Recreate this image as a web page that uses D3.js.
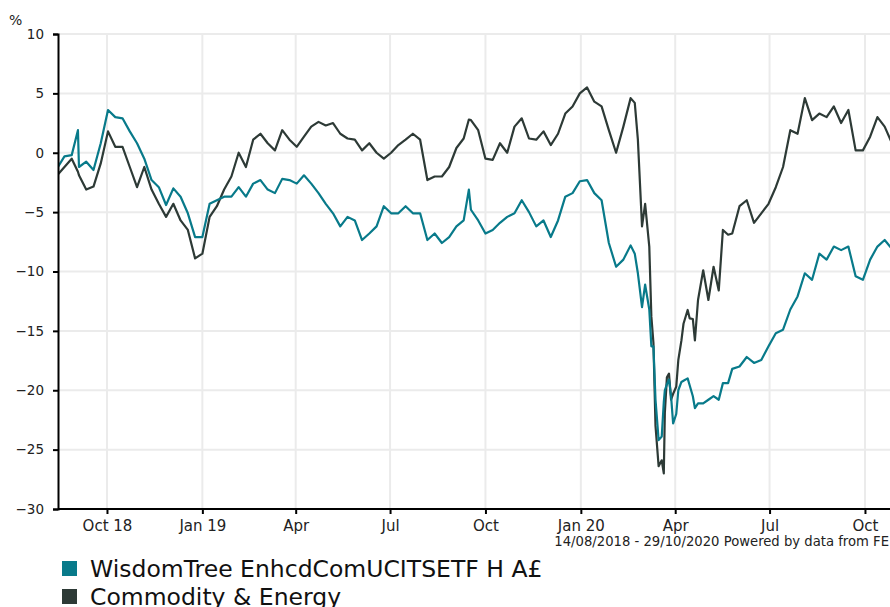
<!DOCTYPE html>
<html>
<head>
<meta charset="utf-8">
<script src="https://cdn.jsdelivr.net/npm/d3@7"></script>
<style>
  html, body { margin: 0; padding: 0; background: #fff; }
  svg { display: block; font-family: "DejaVu Sans", Verdana, sans-serif; }
</style>
</head>
<body>
<svg id="chart"></svg>
<script>
// Chart size
const width = 890;
const height = 607;

// Data: days after 14/08/2018
const startDate = new Date(Date.UTC(2018, 7, 14));
const endDate = new Date(Date.UTC(2020, 9, 29));

const days = [0, 7, 14, 20, 21, 28, 35, 42, 49, 56, 63, 70, 77, 84, 91, 98, 105, 112, 119, 126,
  133, 140, 147, 154, 161, 168, 175, 182, 189, 196, 203, 210, 217, 224, 231, 238, 245, 252, 259, 266,
  273, 280, 287, 294, 301, 308, 315, 322, 329, 336, 343, 350, 357, 364, 371, 378, 385, 392, 397, 399,
  406, 413, 420, 427, 434, 441, 448, 455, 462, 469, 476, 483, 490, 497, 504, 511, 518, 525, 532, 539,
  546, 553, 557, 560, 564, 567, 571, 573, 575, 577, 580, 583, 585, 586, 588, 590, 592, 594, 597, 599,
  602, 604, 608, 610, 613, 615, 618, 623, 628, 633, 638, 642, 647, 651, 658, 665, 672, 679, 686, 693,
  700, 707, 714, 721, 728, 735, 742, 749, 756, 763, 770, 777, 784, 791, 798, 807];

const fundValues = [-1.3, -0.3, -0.2, 1.9, -1.2, -0.75, -1.45, 0.8, 3.6, 3.0, 2.9, 1.8, 0.8, -0.5, -2.3, -2.9, -4.4, -3.0, -3.7, -5.1,
  -7.1, -7.1, -4.3, -4.0, -3.7, -3.7, -2.9, -3.7, -2.6, -2.3, -3.1, -3.4, -2.2, -2.3, -2.6, -1.9, -2.6, -3.4, -4.3, -5.1,
  -6.2, -5.4, -5.7, -7.35, -6.8, -6.2, -4.5, -5.1, -5.1, -4.5, -5.1, -5.1, -7.35, -6.8, -7.6, -7.1, -6.2, -5.7, -3.1, -4.8,
  -5.7, -6.8, -6.5, -5.9, -5.4, -5.1, -4.0, -5.0, -6.2, -5.7, -7.1, -5.7, -3.7, -3.4, -2.4, -2.3, -3.4, -4.0, -7.6, -9.6,
  -9.0, -7.8, -8.5, -10.15, -13.0, -11.1, -13.2, -16.3, -16.3, -20.8, -24.2, -23.9, -21.0, -20.0, -19.5, -19.1, -20.5, -22.8, -22.0, -20.0,
  -19.3, -19.2, -19.0, -19.6, -20.5, -21.5, -21.1, -21.1, -20.8, -20.5, -20.8, -19.4, -19.4, -18.2, -18.0, -17.2, -17.7, -17.45, -16.3, -15.2,
  -14.9, -13.2, -12.1, -10.15, -10.7, -8.5, -9.0, -7.9, -8.2, -7.9, -10.4, -10.7, -9.0, -7.9, -7.35, -8.3];

const sectorValues = [-1.9, -1.2, -0.5, -1.6, -1.9, -3.1, -2.85, -0.9, 1.8, 0.5, 0.5, -1.2, -2.9, -1.2, -3.1, -4.3, -5.4, -4.3, -5.7, -6.5,
  -8.9, -8.5, -5.4, -4.5, -3.1, -2.0, 0.0, -1.2, 1.1, 1.6, 0.8, 0.2, 1.9, 1.1, 0.5, 1.35, 2.2, 2.6, 2.3, 2.5,
  1.6, 1.2, 1.1, 0.2, 0.8, 0.0, -0.5, 0.0, 0.65, 1.1, 1.6, 1.1, -2.3, -2.0, -2.0, -1.2, 0.4, 1.2, 2.8, 2.75,
  1.9, -0.5, -0.6, 0.8, 0.0, 2.2, 2.9, 1.2, 1.1, 1.8, 0.65, 1.6, 3.3, 3.9, 5.0, 5.5, 4.3, 3.9, 1.9, 0.0,
  2.2, 4.6, 4.2, 1.1, -6.2, -4.3, -7.9, -13.8, -16.0, -23.0, -26.4, -25.9, -27.0, -21.9, -18.9, -18.6, -20.8, -20.3, -19.7, -17.45,
  -15.8, -14.4, -13.24, -13.95, -14.0, -15.8, -12.4, -9.9, -12.4, -9.6, -11.6, -6.5, -6.9, -6.8, -4.5, -4.0, -5.9, -5.1, -4.3, -2.9,
  -1.2, 1.9, 1.6, 4.6, 2.75, 3.3, 3.0, 3.9, 2.5, 3.6, 0.2, 0.2, 1.35, 3.0, 2.2, 0.4];

const seriesNames = ["WisdomTree EnhcdComUCITSETF H A£", "Commodity & Energy"];
const seriesColors = ["#087a8a", "#2d3a36"];

const tickDates = [[2018, 9], [2019, 0], [2019, 3], [2019, 6], [2019, 9], [2020, 0], [2020, 3], [2020, 6], [2020, 9]];
const tickLabels = ["Oct 18", "Jan 19", "Apr", "Jul", "Oct", "Jan 20", "Apr", "Jul", "Oct"];
const yTicks = [10, 5, 0, -5, -10, -15, -20, -25, -30];

const sourceText = "14/08/2018 - 29/10/2020 Powered by data from FE";

// Plot area
const margin = { top: 34, left: 58, bottom: 509, right: 894 };

const svg = d3.select("#chart")
  .attr("width", width)
  .attr("height", height);

const x = d3.scaleUtc()
  .domain([startDate, endDate])
  .range([margin.left - 0.8, margin.right]);

const y = d3.scaleLinear()
  .domain([-30, 10])
  .range([margin.bottom, margin.top]);

const tickValues = tickDates.map(([yr, m]) => new Date(Date.UTC(yr, m, 1)));

// grid
svg.append("g")
  .selectAll("line")
  .data(yTicks.slice(0, -1))
  .join("line")
  .attr("x1", margin.left)
  .attr("x2", width)
  .attr("y1", d => y(d))
  .attr("y2", d => y(d))
  .attr("stroke", "#ebebeb")
  .attr("stroke-width", 2);

svg.append("g")
  .selectAll("line")
  .data(tickValues)
  .join("line")
  .attr("x1", d => x(d))
  .attr("x2", d => x(d))
  .attr("y1", margin.top)
  .attr("y2", margin.bottom)
  .attr("stroke", "#ebebeb")
  .attr("stroke-width", 2);

// lines
const rows = days.map((d, i) => ({
  date: d3.utcDay.offset(startDate, d),
  values: [fundValues[i], sectorValues[i]]
}));

const line = k => d3.line()
  .x(d => x(d.date))
  .y(d => y(d.values[k]));

svg.append("defs").append("clipPath")
  .attr("id", "plot")
  .append("rect")
  .attr("x", margin.left)
  .attr("y", 0)
  .attr("width", width - margin.left)
  .attr("height", margin.bottom);

const lines = svg.append("g").attr("clip-path", "url(#plot)");
[1, 0].forEach(k => {
  lines.append("path")
    .datum(rows)
    .attr("fill", "none")
    .attr("stroke", seriesColors[k])
    .attr("stroke-width", 2.2)
    .attr("stroke-linejoin", "round")
    .attr("d", line(k));
});

// axes
const yAxis = svg.append("g")
  .attr("transform", `translate(${margin.left},0)`)
  .call(d3.axisLeft(y).tickValues(yTicks).tickSize(5).tickPadding(9));

const xAxis = svg.append("g")
  .attr("transform", `translate(0,${margin.bottom})`)
  .call(d3.axisBottom(x).tickValues(tickValues).tickSize(5).tickPadding(6)
    .tickFormat((d, i) => tickLabels[i]));

[yAxis, xAxis].forEach(a => {
  a.select(".domain").attr("stroke", "#000").attr("stroke-width", 2);
  a.selectAll(".tick line").attr("stroke", "#000").attr("stroke-width", 2);
  a.selectAll("text")
    .attr("fill", "#222")
    .style("font-family", "DejaVu Sans, Verdana, sans-serif");
});
yAxis.selectAll("text").style("font-size", "13.5px");
xAxis.selectAll("text").style("font-size", "15px");
xAxis.select(".domain").attr("d", `M${margin.left},0H${width}`);

svg.append("text")
  .attr("x", 9)
  .attr("y", 25)
  .attr("fill", "#222")
  .style("font-size", "14px")
  .text("%");

svg.append("text")
  .attr("x", 889)
  .attr("y", 546)
  .attr("text-anchor", "end")
  .attr("fill", "#222")
  .style("font-size", "13.2px")
  .text(sourceText);

// legend
const legend = svg.append("g")
  .selectAll("g")
  .data(seriesNames)
  .join("g")
  .attr("transform", (d, i) => `translate(62,${561 + i * 28})`);

legend.append("rect")
  .attr("width", 15)
  .attr("height", 15)
  .attr("fill", (d, i) => seriesColors[i]);

legend.append("text")
  .attr("x", 28)
  .attr("y", 16)
  .attr("fill", "#111")
  .style("font-size", "23.5px")
  .text(d => d);
</script>
</body>
</html>
